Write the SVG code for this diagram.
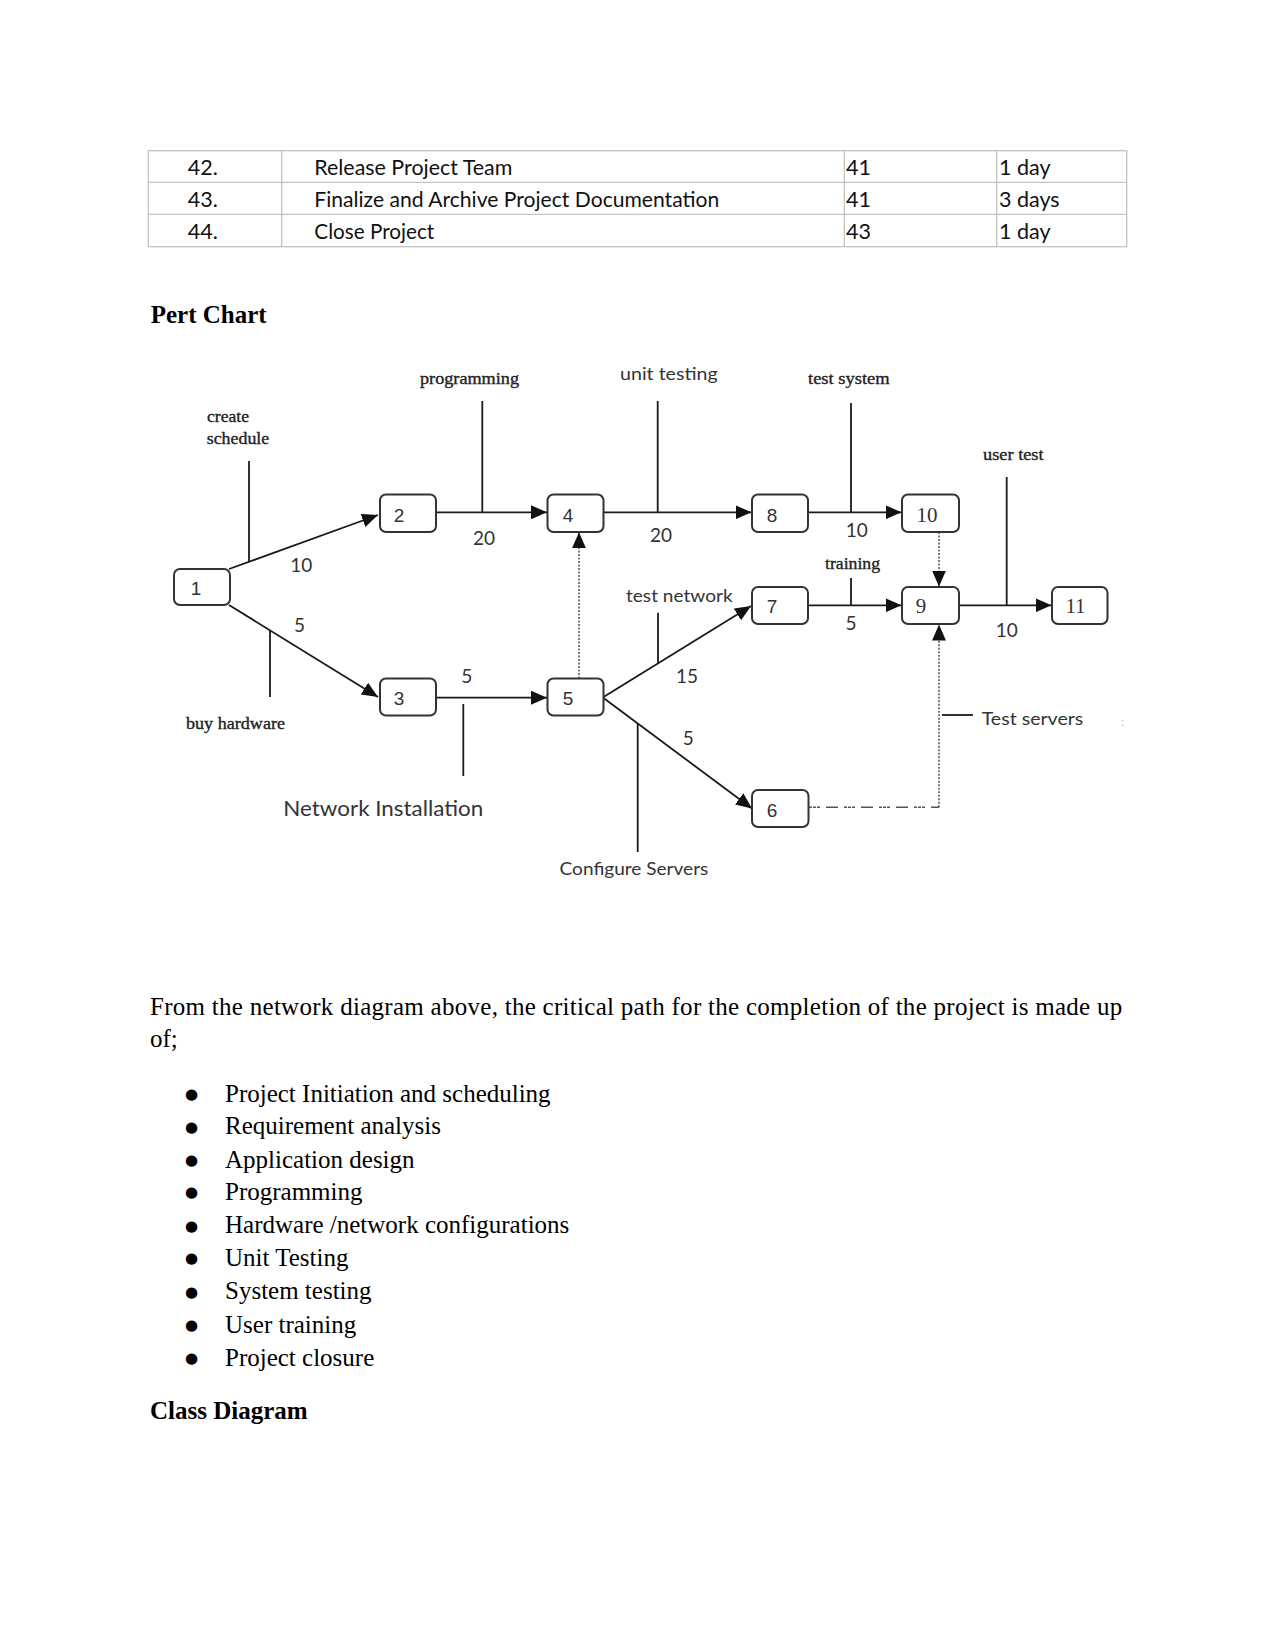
<svg xmlns="http://www.w3.org/2000/svg" width="1275" height="1650" viewBox="0 0 1275 1650">
<defs>
<marker id="ah" markerUnits="userSpaceOnUse" markerWidth="16" markerHeight="14" refX="16" refY="7" orient="auto">
<path d="M0,0 L16,7 L0,14 Z" fill="#111"/>
</marker>
<style>
.tbl{fill:none;stroke:#c3c3c3;stroke-width:1.3}
.tt{font-family:Lato,"Liberation Sans",sans-serif;font-size:21.5px;fill:#111}
.body{font-family:"Liberation Serif","Times New Roman",serif;font-size:25px;fill:#000}
.bul{font-family:"DejaVu Sans",sans-serif;font-size:15px;fill:#000;text-anchor:middle}
.head{font-family:"Liberation Serif","Times New Roman",serif;font-size:25px;font-weight:bold;fill:#000}
.box{fill:#fff;stroke:#333;stroke-width:2}
.nl{font-family:"Liberation Sans",Arial,sans-serif;font-size:19px;fill:#333;text-anchor:middle}
.nls{font-family:"Liberation Serif","Times New Roman",serif;font-size:21px;fill:#333;text-anchor:middle}
.edge{stroke:#1a1a1a;stroke-width:1.8;fill:none}
.dot{stroke:#444;stroke-width:1.4;fill:none;stroke-dasharray:2 1.5}
.dash{stroke:#555;stroke-width:1.4;fill:none;stroke-dasharray:3 1 3 1 3 6 12 6}
.tick{stroke:#1a1a1a;stroke-width:1.8;fill:none}
.num{font-family:Lato,"Liberation Sans",sans-serif;font-size:19px;fill:#333;text-anchor:middle}
.ser{font-family:"Liberation Serif","Times New Roman",serif;font-size:17px;fill:#222;stroke:#222;stroke-width:0.35}
.san{font-family:Lato,"Liberation Sans",sans-serif;font-size:18px;fill:#333}
</style>
</defs>
<rect width="1275" height="1650" fill="#fff"/>

<g id="table">
<rect class="tbl" x="148.3" y="150.7" width="978.4" height="96"/>
<line class="tbl" x1="148.3" y1="182.3" x2="1126.7" y2="182.3"/>
<line class="tbl" x1="148.3" y1="214.3" x2="1126.7" y2="214.3"/>
<line class="tbl" x1="281.7" y1="150.7" x2="281.7" y2="246.7"/>
<line class="tbl" x1="844.3" y1="150.7" x2="844.3" y2="246.7"/>
<line class="tbl" x1="996.7" y1="150.7" x2="996.7" y2="246.7"/>
<text class="tt" x="187.7" y="175">42.</text>
<text class="tt" x="314.3" y="175" textLength="198" lengthAdjust="spacingAndGlyphs">Release Project Team</text>
<text class="tt" x="846" y="175">41</text>
<text class="tt" x="999" y="175">1 day</text>
<text class="tt" x="187.7" y="207.3">43.</text>
<text class="tt" x="314.3" y="207.3" textLength="405" lengthAdjust="spacingAndGlyphs">Finalize and Archive Project Documentation</text>
<text class="tt" x="846" y="207.3">41</text>
<text class="tt" x="999" y="207.3">3 days</text>
<text class="tt" x="187.7" y="239.3">44.</text>
<text class="tt" x="314.3" y="239.3" textLength="120" lengthAdjust="spacingAndGlyphs">Close Project</text>
<text class="tt" x="846" y="239.3">43</text>
<text class="tt" x="999" y="239.3">1 day</text>
</g>

<text class="head" x="150.7" y="323.3">Pert Chart</text>

<g id="connectors">
<line class="edge" x1="229" y1="569" x2="378" y2="515" marker-end="url(#ah)"/>
<line class="edge" x1="229" y1="605" x2="378" y2="697" marker-end="url(#ah)"/>
<line class="edge" x1="436" y1="512.3" x2="547" y2="512.3" marker-end="url(#ah)"/>
<line class="edge" x1="603.5" y1="512.3" x2="751.5" y2="512.3" marker-end="url(#ah)"/>
<line class="edge" x1="808" y1="512.3" x2="901.5" y2="512.3" marker-end="url(#ah)"/>
<line class="dot" x1="939" y1="532" x2="939" y2="586.5" marker-end="url(#ah)"/>
<line class="edge" x1="436" y1="697.7" x2="547" y2="697.7" marker-end="url(#ah)"/>
<line class="dot" x1="579" y1="678.5" x2="579" y2="532.3" marker-end="url(#ah)"/>
<line class="edge" x1="603.5" y1="697" x2="751" y2="606" marker-end="url(#ah)"/>
<line class="edge" x1="603.5" y1="698" x2="752" y2="808.5" marker-end="url(#ah)"/>
<line class="edge" x1="808" y1="605.3" x2="901.5" y2="605.3" marker-end="url(#ah)"/>
<line class="edge" x1="959" y1="605.3" x2="1051.5" y2="605.3" marker-end="url(#ah)"/>
<path class="dash" d="M809,807.3 H939"/>
<path class="dot" d="M939,807.3 V624.5" marker-end="url(#ah)"/>
<line class="tick" x1="249" y1="461" x2="249" y2="562"/>
<line class="tick" x1="482.3" y1="401" x2="482.3" y2="512"/>
<line class="tick" x1="657.7" y1="401" x2="657.7" y2="512"/>
<line class="tick" x1="851" y1="403" x2="851" y2="512"/>
<line class="tick" x1="851" y1="578" x2="851" y2="605"/>
<line class="tick" x1="1006.7" y1="477" x2="1006.7" y2="605"/>
<line class="tick" x1="270" y1="630" x2="270" y2="697"/>
<line class="tick" x1="463.3" y1="704" x2="463.3" y2="776"/>
<line class="tick" x1="658" y1="612.7" x2="658" y2="663"/>
<line class="tick" x1="637.7" y1="723.5" x2="637.7" y2="852"/>
<line class="tick" x1="942" y1="715" x2="973" y2="715"/>
<text class="num" x="301.3" y="571.7">10</text>
<text class="num" x="299.5" y="631.7">5</text>
<text class="num" x="484" y="545">20</text>
<text class="num" x="466.7" y="683.3">5</text>
<text class="num" x="661" y="541.7">20</text>
<text class="num" x="856.7" y="536.7">10</text>
<text class="num" x="687" y="682.7">15</text>
<text class="num" x="688.3" y="745">5</text>
<text class="num" x="851" y="630">5</text>
<text class="num" x="1006.7" y="636.7">10</text>
<text class="ser" x="207" y="421.7" textLength="42" lengthAdjust="spacingAndGlyphs">create</text>
<text class="ser" x="206.7" y="443.5" textLength="62.6" lengthAdjust="spacingAndGlyphs">schedule</text>
<text class="ser" x="420" y="384" textLength="99" lengthAdjust="spacingAndGlyphs">programming</text>
<text class="san" x="620" y="380" textLength="97.7" lengthAdjust="spacingAndGlyphs">unit testing</text>
<text class="ser" x="808" y="384" textLength="81.6" lengthAdjust="spacingAndGlyphs">test system</text>
<text class="ser" x="983" y="460" textLength="60.6" lengthAdjust="spacingAndGlyphs">user test</text>
<text class="ser" x="825" y="569" textLength="55" lengthAdjust="spacingAndGlyphs">training</text>
<text class="san" x="626" y="601.7" textLength="106.7" lengthAdjust="spacingAndGlyphs">test network</text>
<text class="ser" x="186" y="729" textLength="99" lengthAdjust="spacingAndGlyphs">buy hardware</text>
<text class="san" x="283.3" y="816" style="font-size:21px" textLength="200" lengthAdjust="spacingAndGlyphs">Network Installation</text>
<text class="san" x="559.6" y="875" textLength="148.7" lengthAdjust="spacingAndGlyphs">Configure Servers</text>
<text class="san" x="981.7" y="725" textLength="101.6" lengthAdjust="spacingAndGlyphs">Test servers</text>
<text class="san" x="1121" y="726" style="font-size:12px;fill:#bbb">:</text>
</g>

<g id="n1"><rect class="box" x="174" y="569" width="56" height="36" rx="6"/><text class="nl" x="196" y="595">1</text></g>
<g id="n2"><rect class="box" x="380" y="494.5" width="56" height="37.5" rx="6"/><text class="nl" x="399" y="521.7">2</text></g>
<g id="n3"><rect class="box" x="380" y="678.5" width="56" height="37" rx="6"/><text class="nl" x="399" y="705">3</text></g>
<g id="n4"><rect class="box" x="547.5" y="494.5" width="56" height="37.5" rx="6"/><text class="nl" x="568" y="521.7">4</text></g>
<g id="n5"><rect class="box" x="547.5" y="678.5" width="56" height="37" rx="6"/><text class="nl" x="568" y="705">5</text></g>
<g id="n6"><rect class="box" x="752" y="790" width="56.5" height="37" rx="6"/><text class="nl" x="772" y="817">6</text></g>
<g id="n7"><rect class="box" x="752" y="587" width="56" height="37" rx="6"/><text class="nl" x="772" y="613">7</text></g>
<g id="n8"><rect class="box" x="752" y="494.5" width="56" height="37.5" rx="6"/><text class="nl" x="772" y="521.7">8</text></g>
<g id="n9"><rect class="box" x="902" y="587" width="57" height="37" rx="6"/><text class="nls" x="921" y="613">9</text></g>
<g id="n10"><rect class="box" x="902" y="494.5" width="57" height="37.5" rx="6"/><text class="nls" x="927" y="521.7">10</text></g>
<g id="n11"><rect class="box" x="1052" y="587" width="55.5" height="37" rx="6"/><text class="nls" x="1075.5" y="613">11</text></g>

<g id="text">
<text class="body" x="150" y="1015" textLength="972.3" lengthAdjust="spacing">From the network diagram above, the critical path for the completion of the project is made up</text>
<text class="body" x="150" y="1046.7">of;</text>
<g class="bul">
<text x="191.5" y="1099">●</text>
<text x="191.5" y="1131.6">●</text>
<text x="191.5" y="1165">●</text>
<text x="191.5" y="1197.3">●</text>
<text x="191.5" y="1230.6">●</text>
<text x="191.5" y="1263.3">●</text>
<text x="191.5" y="1296.6">●</text>
<text x="191.5" y="1330">●</text>
<text x="191.5" y="1363">●</text>
</g>
<g class="body">
<text x="225" y="1101.7">Project Initiation and scheduling</text>
<text x="225" y="1134.3">Requirement analysis</text>
<text x="225" y="1167.7">Application design</text>
<text x="225" y="1200">Programming</text>
<text x="225" y="1233.3">Hardware /network configurations</text>
<text x="225" y="1266">Unit Testing</text>
<text x="225" y="1299.3">System testing</text>
<text x="225" y="1332.7">User training</text>
<text x="225" y="1365.7">Project closure</text>
</g>
<text class="head" x="150" y="1419.3">Class Diagram</text>
</g>
</svg>
